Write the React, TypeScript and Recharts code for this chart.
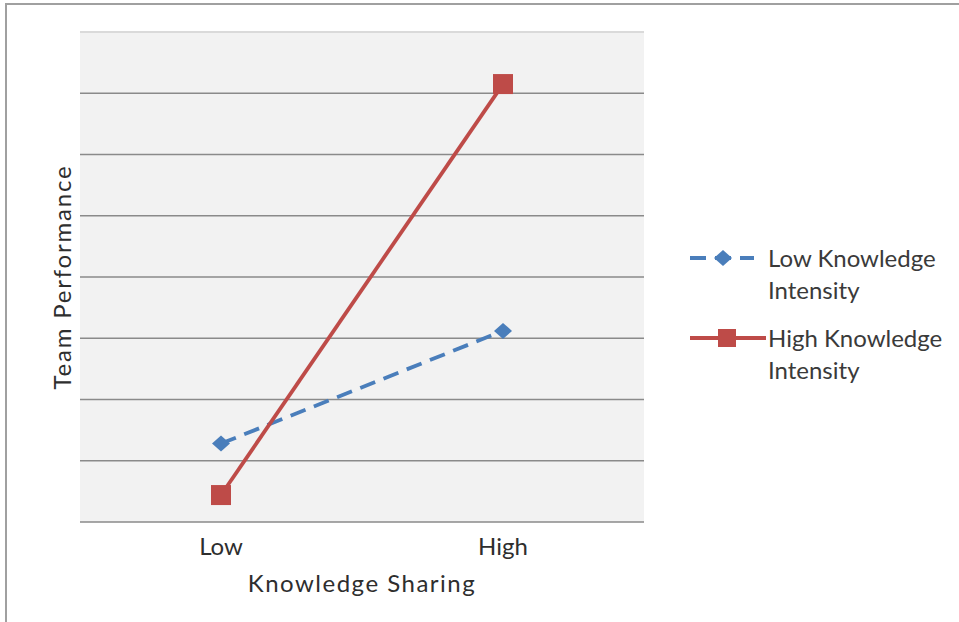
import { CartesianGrid, Legend, Line, LineChart, ReferenceLine, XAxis, YAxis } from "recharts";

const categories = ["Low", "High"];
const lowIntensity = [1.28, 3.12];
const highIntensity = [0.44, 7.15];
const yTicks = [0, 1, 2, 3, 4, 5, 6, 7, 8];
const gridValues = [1, 2, 3, 4, 5, 6, 7];

const data = categories.map((name, i) => ({
  name,
  low: lowIntensity[i],
  high: highIntensity[i],
}));

const BLUE = "#4a7ebb";
const RED = "#be4b48";
const TEXT = "#2e2e2e";
const GRID = "#8a8a8a";
const FONT = "Lato, 'Open Sans', sans-serif";

function Diamond({ cx, cy }: any) {
  if (cx == null || cy == null) return null;
  return (
    <path
      d={`M${cx},${cy - 8} L${cx + 9},${cy} L${cx},${cy + 8} L${cx - 9},${cy} Z`}
      fill={BLUE}
    />
  );
}

function Square({ cx, cy }: any) {
  if (cx == null || cy == null) return null;
  return <rect x={cx - 10} y={cy - 10} width={20} height={20} fill={RED} />;
}

function LegendBox() {
  const items = [
    { lines: ["Low Knowledge", "Intensity"], color: BLUE, dashed: true },
    { lines: ["High Knowledge", "Intensity"], color: RED, dashed: false },
  ];
  return (
    <div style={{ fontFamily: FONT, fontSize: 24, color: "#3a3a3a" }}>
      {items.map((it, i) => (
        <div key={i} style={{ display: "flex", alignItems: "flex-start", marginBottom: 16 }}>
          <svg width={80} height={32} style={{ flexShrink: 0 }}>
            <line
              x1={2}
              y1={16}
              x2={it.dashed ? 66 : 78}
              y2={16}
              stroke={it.color}
              strokeWidth={3.8}
              strokeDasharray={it.dashed ? "16 9" : undefined}
            />
            {it.dashed ? (
              <path d="M35,8 L44,16 L35,24 L26,16 Z" fill={it.color} />
            ) : (
              <rect x={30} y={7} width={18} height={18} fill={it.color} />
            )}
          </svg>
          <div style={{ lineHeight: "32px" }}>
            {it.lines.map((l, j) => (
              <div key={j}>{l}</div>
            ))}
          </div>
        </div>
      ))}
    </div>
  );
}

export default function App() {
  return (
    <div style={{ position: "absolute", left: 0, top: 0, width: 959, height: 622, background: "#fff", overflow: "hidden" }}>
      <div
        style={{
          position: "absolute",
          left: 5,
          top: 3,
          width: 980,
          height: 640,
          borderLeft: "2px solid #a0a0a0",
          borderTop: "2px solid #a0a0a0",
        }}
      />
      <LineChart
        width={959}
        height={622}
        data={data}
        margin={{ top: 32, right: 315, bottom: 22, left: 40 }}
        style={{ fontFamily: FONT, position: "absolute", left: 0, top: 0 }}
      >
        <CartesianGrid vertical={false} horizontal={false} fill="#f2f2f2" />
        {gridValues.map((v) => (
          <ReferenceLine key={v} y={v} stroke={GRID} strokeWidth={1.5} />
        ))}
        <ReferenceLine y={8} stroke="#dadada" strokeWidth={2} />
        <XAxis
          dataKey="name"
          padding={{ left: 141, right: 141 }}
          height={78}
          axisLine={{ stroke: GRID, strokeWidth: 1.5 }}
          tickLine={false}
          tickMargin={10}
          tick={{ fill: TEXT, fontSize: 24, fontFamily: FONT }}
          label={{
            value: "Knowledge Sharing",
            position: "insideBottom",
            offset: 8,
            fill: TEXT,
            fontSize: 24,
            fontFamily: FONT,
            letterSpacing: 1.5,
          }}
        />
        <YAxis
          domain={[0, 8]}
          ticks={yTicks}
          width={40}
          tick={false}
          axisLine={false}
          tickLine={false}
          label={{
            value: "Team Performance",
            angle: -90,
            position: "center",
            dx: 2,
            fill: TEXT,
            fontSize: 24,
            fontFamily: FONT,
            letterSpacing: 1.8,
          }}
        />
        <Legend
          layout="vertical"
          align="center"
          verticalAlign="middle"
          wrapperStyle={{ left: 688, top: 242, width: 271 }}
          content={<LegendBox />}
        />
        <Line
          dataKey="low"
          name="Low Knowledge Intensity"
          stroke={BLUE}
          strokeWidth={3.8}
          strokeDasharray="16 9"
          dot={<Diamond />}
          activeDot={false}
          isAnimationActive={false}
        />
        <Line
          dataKey="high"
          name="High Knowledge Intensity"
          stroke={RED}
          strokeWidth={3.8}
          dot={<Square />}
          activeDot={false}
          isAnimationActive={false}
        />
      </LineChart>
    </div>
  );
}
